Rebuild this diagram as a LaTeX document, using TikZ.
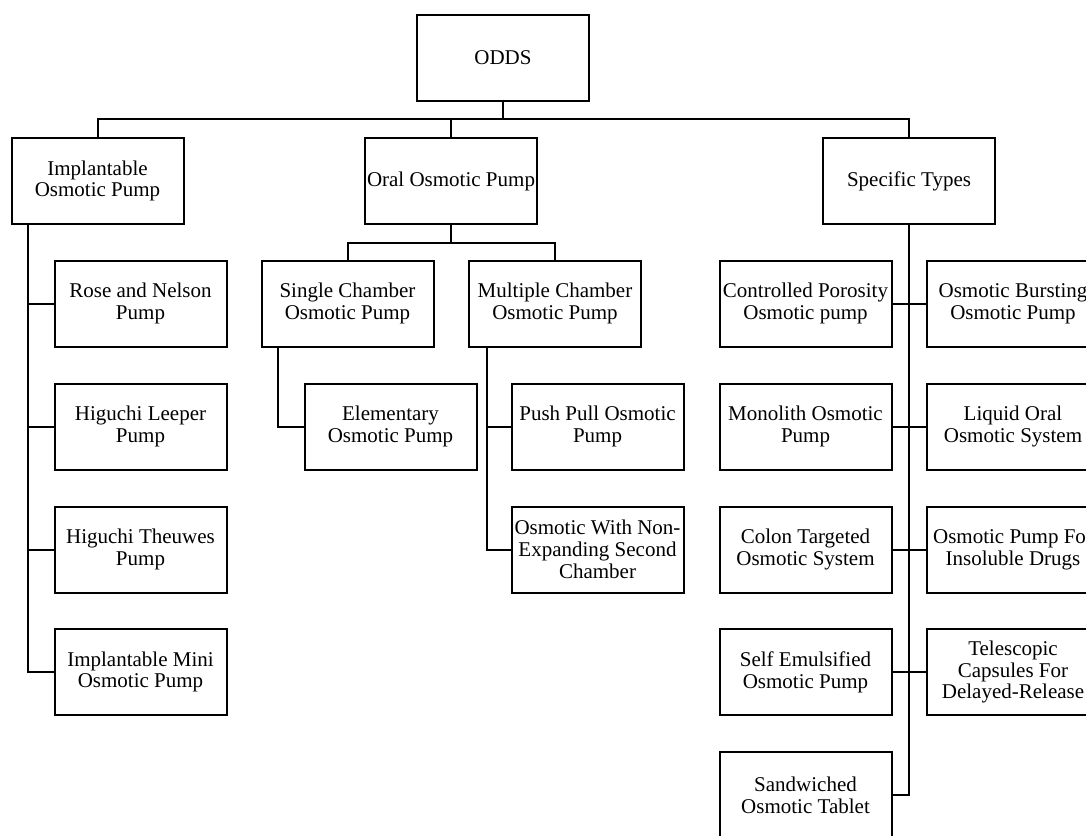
\documentclass[tikz,border=0pt]{standalone}
\usepackage{fontspec}
\setmainfont{Liberation Serif}
\usetikzlibrary{calc}
\begin{document}
\begin{tikzpicture}[x=0.5pt,y=-0.5pt,
  box/.style={draw,line width=1pt,minimum width=86pt,minimum height=43pt,inner xsep=1pt,align=center,font=\fontsize{10.5}{10.9}\selectfont},
  link/.style={line width=1pt}]
\useasboundingbox (0,0) rectangle (1086,835);
\node[box] (odds) at (503,58) {ODDS};
\node[box] (imp) at (97.5,181) {Implantable\\Osmotic Pump};
\node[box] (oral) at (451,181) {Oral Osmotic Pump};
\node[box] (spec) at (909,181) {Specific Types};
\node[box] (rose) at (140.5,303.5) {Rose and Nelson\\Pump};
\node[box] (leeper) at (140.5,426.5) {Higuchi Leeper\\Pump};
\node[box] (theuwes) at (140.5,549.5) {Higuchi Theuwes\\Pump};
\node[box] (mini) at (140.5,672) {Implantable Mini\\Osmotic Pump};
\node[box] (single) at (347.5,303.5) {Single Chamber\\Osmotic Pump};
\node[box] (multi) at (555,303.5) {Multiple Chamber\\Osmotic Pump};
\node[box] (elem) at (390.5,426.5) {Elementary\\Osmotic Pump};
\node[box] (push) at (597.5,426.5) {Push Pull Osmotic\\Pump};
\node[box] (nonexp) at (597.5,549.5) {Osmotic With Non-\\Expanding Second\\Chamber};
\node[box] (porous) at (805.5,303.5) {Controlled Porosity\\Osmotic pump};
\node[box] (burst) at (1013,303.5) {Osmotic Bursting\\Osmotic Pump};
\node[box] (mono) at (805.5,426.5) {Monolith Osmotic\\Pump};
\node[box] (liquid) at (1013,426.5) {Liquid Oral\\Osmotic System};
\node[box] (colon) at (805.5,549.5) {Colon Targeted\\Osmotic System};
\node[box] (insol) at (1013,549.5) {Osmotic Pump For\\Insoluble Drugs};
\node[box] (selfem) at (805.5,672) {Self Emulsified\\Osmotic Pump};
\node[box] (tele) at (1013,672) {Telescopic\\Capsules For\\Delayed-Release};
\node[box] (sand) at (805.5,795) {Sandwiched\\Osmotic Tablet};

\coordinate (bus) at (503,119);
\draw[link] (odds.south) -- (bus);
\draw[link] (imp.north) |- (bus) -| (spec.north);
\draw[link] (oral.north) -- (oral.north |- bus);

\draw[link] (oral.south) -- ++(0,18) coordinate (obus);
\draw[link] (single.north) |- (obus) -| (multi.north);

\draw[link] ($(imp.south west)+(17,0)$) |- (mini.west);
\draw[link] ($(imp.south west)+(17,0)$) |- (rose.west);
\draw[link] ($(imp.south west)+(17,0)$) |- (leeper.west);
\draw[link] ($(imp.south west)+(17,0)$) |- (theuwes.west);

\draw[link] ($(single.south west)+(17,0)$) |- (elem.west);
\draw[link] ($(multi.south west)+(19,0)$) |- (nonexp.west);
\draw[link] ($(multi.south west)+(19,0)$) |- (push.west);

\draw[link] (spec.south) |- (sand.east);
\draw[link] (porous.east) -- (burst.west);
\draw[link] (mono.east) -- (liquid.west);
\draw[link] (colon.east) -- (insol.west);
\draw[link] (selfem.east) -- (tele.west);
\end{tikzpicture}
\end{document}
